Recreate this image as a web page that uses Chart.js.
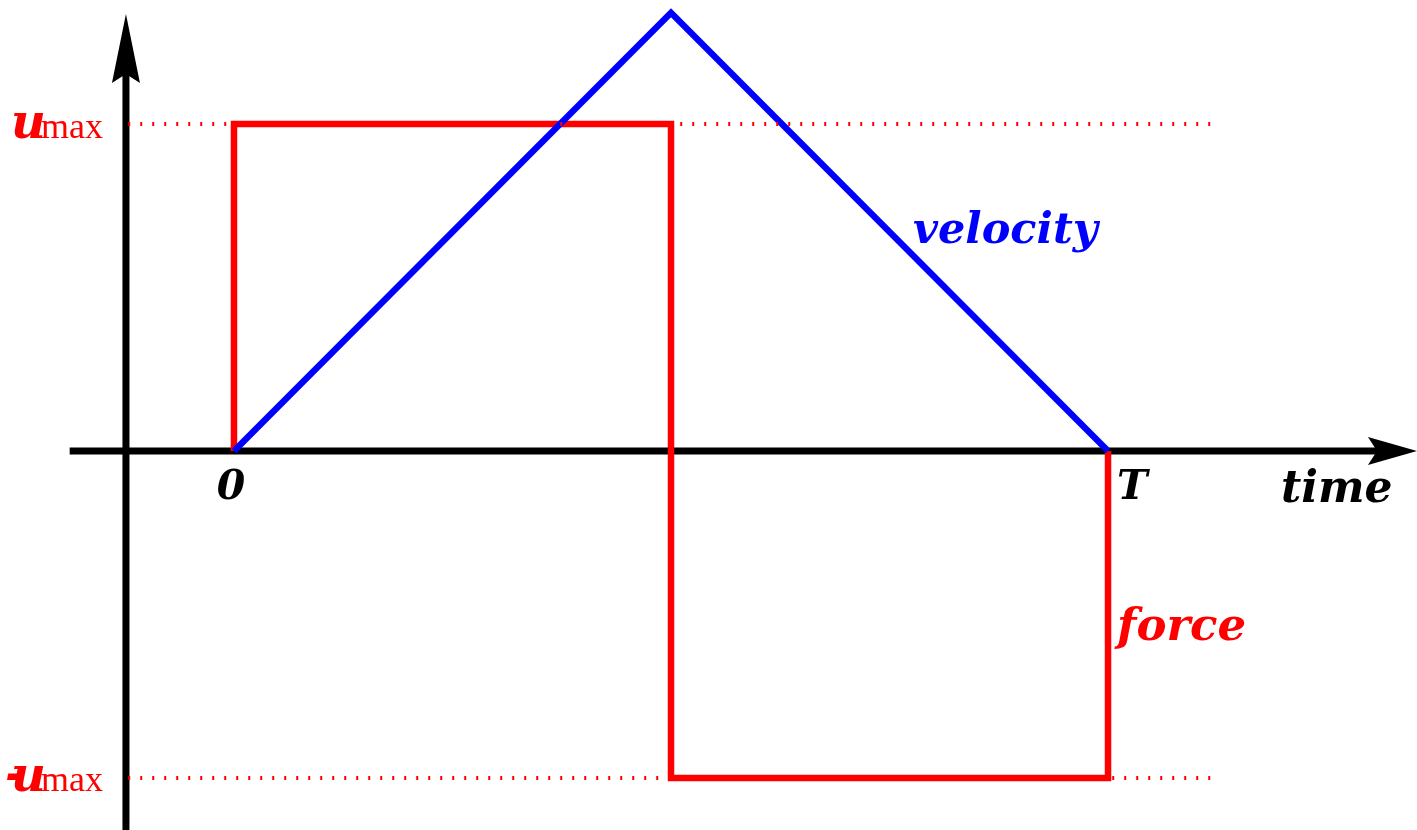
<!DOCTYPE html>
<html>
<head>
<meta charset="utf-8">
<script src="https://cdn.jsdelivr.net/npm/chart.js@4"></script>
<style>
  body { margin: 0; background: #fff; }
  #wrap { width: 1417px; height: 830px; }
</style>
</head>
<body>
<div id="wrap"><canvas id="myChart"></canvas></div>
<script>
// time in units of T, values in units of u_max
const velocityTimes = [0, 0.5, 1];
const velocityValues = [0, 1.34, 0];

const forceTimes = [0, 0, 0.5, 0.5, 1, 1];
const forceValues = [0, 1, 1, -1, -1, 0];

const limitTimes = [-0.121, 1.122];
const limitValues = [1, -1];

// axis shafts (arrow heads are added on top of the shaft ends)
const xAxisTimes = [-0.188, 1.31];
const yAxisAt = -0.1236;
const yAxisValues = [-1.17, 1.159];

const tickLabels = ["0", "T"];
const tickTimes = [0, 1];

const RED = "#ff0000";
const BLUE = "#0000ff";
const BLACK = "#000000";

const line = (xs, ys) => xs.map((x, i) => ({ x: x, y: ys[i] }));

const datasets = [];

limitValues.forEach((v) => {
  datasets.push({
    label: "limit",
    data: line(limitTimes, [v, v]),
    borderColor: RED,
    borderWidth: 4,
    borderDash: [2, 10],
    order: 0,
  });
});

datasets.push({
  label: "velocity",
  data: line(velocityTimes, velocityValues),
  borderColor: BLUE,
  borderWidth: 6.5,
  order: 1,
});
datasets.push({
  label: "force",
  data: line(forceTimes, forceValues),
  borderColor: RED,
  borderWidth: 6.5,
  borderJoinStyle: "miter",
  order: 2,
});
datasets.push({
  label: "x axis",
  data: line(xAxisTimes, [0, 0]),
  borderColor: BLACK,
  borderWidth: 7,
  order: 4,
});
datasets.push({
  label: "y axis",
  data: line([yAxisAt, yAxisAt], yAxisValues),
  borderColor: BLACK,
  borderWidth: 7,
  order: 4,
});

datasets.forEach((d) => {
  d.showLine = true;
  d.pointRadius = 0;
  d.pointHoverRadius = 0;
  d.tension = 0;
  d.fill = false;
  d.clip = false;
});

const decorations = {
  id: "decorations",
  afterDatasetsDraw(chart) {
    const c = chart.ctx;
    const xs = chart.scales.x;
    const ys = chart.scales.y;
    const px = (v) => xs.getPixelForValue(v);
    const py = (v) => ys.getPixelForValue(v);

    c.save();
    c.fillStyle = BLACK;

    // arrow on the time axis
    const ax = px(xAxisTimes[1]);
    const ay = py(0);
    c.beginPath();
    c.moveTo(ax - 2, ay);
    c.lineTo(ax - 11, ay - 14);
    c.lineTo(ax + 38, ay);
    c.lineTo(ax - 11, ay + 14);
    c.closePath();
    c.fill();

    // arrow on the vertical axis
    const bx = px(yAxisAt);
    const by = py(yAxisValues[1]);
    c.beginPath();
    c.moveTo(bx, by + 2);
    c.lineTo(bx - 14, by + 11);
    c.lineTo(bx, by - 58);
    c.lineTo(bx + 14, by + 11);
    c.closePath();
    c.fill();

    const bi = (size) => "italic bold " + size + "px 'DejaVu Serif'";

    // tick labels
    c.textBaseline = "alphabetic";
    c.font = bi(41);
    c.textAlign = "center";
    c.fillText(tickLabels[0], px(tickTimes[0]) - 3, py(0) + 48);
    c.textAlign = "left";
    c.fillText(tickLabels[1], px(tickTimes[1]) + 9, py(0) + 48);
    c.font = bi(44);
    c.fillText("time", 1281, py(0) + 51);

    // series labels
    c.fillStyle = BLUE;
    c.font = bi(43);
    c.fillText("velocity", 913, 243);
    c.fillStyle = RED;
    c.font = bi(45);
    c.fillText("force", px(1) + 9, 640);

    // u_max labels
    const umax = (y, neg) => {
      c.font = bi(48);
      if (neg) {
        c.fillText("-", 5, y - 1);
      }
      c.fillText("u", 11, y);
      c.font = "36px 'Liberation Serif'";
      c.fillText("max", 41, y);
    };
    umax(py(1) + 14, false);
    umax(py(-1) + 13, true);

    c.restore();
  },
};

const ctx = document.getElementById("myChart").getContext("2d");

const config = {
  type: "scatter",
  data: { datasets: datasets },
  options: {
    responsive: true,
    maintainAspectRatio: false,
    animation: false,
    layout: { padding: 0 },
    plugins: {
      legend: { display: false },
      tooltip: { enabled: false },
    },
    scales: {
      x: { type: "linear", display: false, min: -0.2677, max: 1.3535 },
      y: { type: "linear", display: false, min: -1.159, max: 1.379 },
    },
  },
  plugins: [decorations],
};

const myChart = new Chart(ctx, config);
</script>
</body>
</html>
